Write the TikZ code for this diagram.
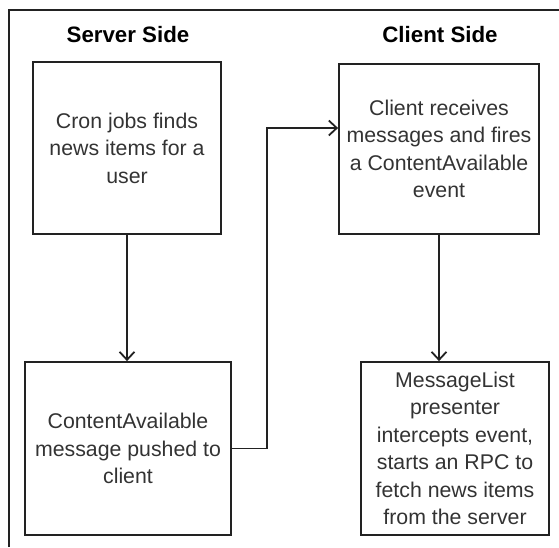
\documentclass[tikz,border=0pt]{standalone}
\usepackage{fontspec}
\setmainfont{Liberation Sans}
\usetikzlibrary{arrows.meta}
\definecolor{txt}{HTML}{333333}
\definecolor{ln}{HTML}{222222}
\tikzset{
  box/.style={draw=ln, line width=1.8pt, rectangle, inner sep=0pt, align=center,
    font=\fontsize{21.3}{27.5}\selectfont, text=txt},
  title/.style={font=\fontsize{22.3}{26}\selectfont\bfseries, text=black},
  conn/.style={draw=ln, line width=1.8pt, -{Straight Barb[length=8pt,width=15pt,line width=1.8pt]}},
  frame/.style={draw=ln, line width=1.8pt}
}
\begin{document}
\begin{tikzpicture}[x=1pt,y=-1pt]
\useasboundingbox (0,0) rectangle (559,547);
\coordinate (fl) at (9,547);
\coordinate (ftl) at (9,10);
\coordinate (fr) at (559,10);
\draw[frame] (fl) -- (ftl) -- (fr);
\node[title] (ts) at (128,35) {Server Side};
\node[title] (tc) at (440,35) {Client Side};
\node[box, minimum width=188pt, minimum height=172pt] (b1) at (127,148) {Cron jobs finds\\news items for a\\user};
\node[box, minimum width=200pt, minimum height=170pt] (b2) at (439,149) {Client receives\\messages and fires\\a ContentAvailable\\event};
\node[box, minimum width=206pt, minimum height=173pt] (b3) at (128,448.5) {ContentAvailable\\message pushed to\\client};
\node[box, minimum width=188pt, minimum height=173pt] (b4) at (455,448.5) {MessageList\\presenter\\intercepts event,\\starts an RPC to\\fetch news items\\from the server};
\coordinate (k1) at (267,448.5);
\coordinate (k2) at (267,128);
\coordinate (e2) at (339,128);
\draw[conn] (b1.south) -- (b1.south |- b3.north);
\draw[conn] (b3.east) -- (k1) -- (k2) -- (b2.west |- e2);
\draw[conn] (b2.south) -- (b2.south |- b4.north);
\end{tikzpicture}
\end{document}
